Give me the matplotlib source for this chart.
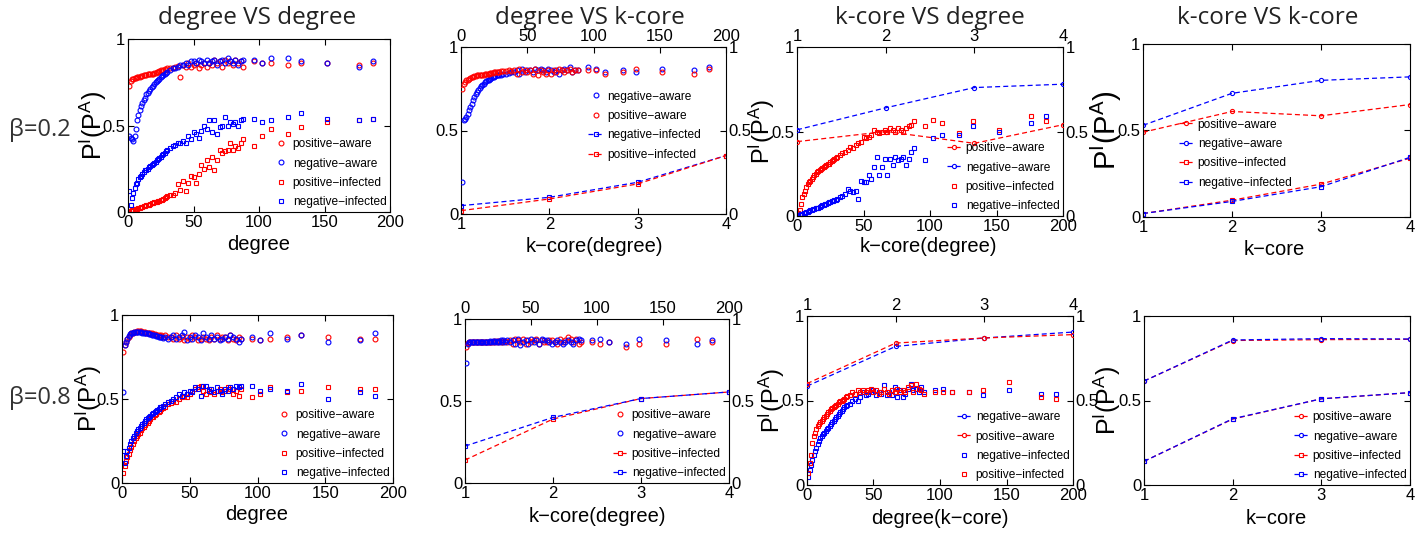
import matplotlib
matplotlib.use('Agg')
import matplotlib.pyplot as plt

plt.rcParams['font.family'] = ['Liberation Sans', 'DejaVu Sans']
plt.rcParams['mathtext.fontset'] = 'custom'
plt.rcParams['mathtext.rm'] = 'Liberation Sans'

# ---------------- data ----------------
deg = [1, 2, 3, 4, 5, 6, 7, 8, 9, 10,
       11, 12, 13, 14, 15, 16, 17, 18, 19, 20,
       21, 22, 23, 24, 25, 26, 27, 28, 29, 30,
       32, 34, 36, 38, 40, 42, 44, 46, 48, 50,
       52, 54, 56, 58, 60,
       62, 64, 66, 68, 70, 72, 74, 76, 78, 80, 82, 84, 86, 88,
       96, 102, 109, 122, 132, 152, 176, 187]
kcore = [1, 2, 3, 4]

# beta = 0.2, degree VS degree
p1_pos_aware = [0.73, 0.76, 0.77, 0.77, 0.775, 0.775, 0.78, 0.78, 0.78, 0.785,
                0.785, 0.79, 0.79, 0.79, 0.795, 0.795, 0.80, 0.80, 0.80, 0.805,
                0.805, 0.81, 0.81, 0.815, 0.82, 0.815, 0.82, 0.825, 0.82, 0.83,
                0.83, 0.835, 0.84, 0.845, 0.78, 0.85, 0.84, 0.86, 0.84, 0.85,
                0.86, 0.83, 0.85, 0.86, 0.84,
                0.86, 0.85, 0.88, 0.86, 0.87, 0.84, 0.88, 0.86, 0.87, 0.85, 0.88, 0.86, 0.87, 0.84,
                0.87, 0.86, 0.86, 0.85, 0.86, 0.86, 0.85, 0.86]
p1_neg_aware = [0.44, 0.43, 0.42, 0.41, 0.44, 0.48, 0.53, 0.56, 0.59, 0.61,
                0.63, 0.65, 0.66, 0.68, 0.69, 0.70, 0.71, 0.72, 0.73, 0.74,
                0.75, 0.76, 0.765, 0.77, 0.78, 0.785, 0.79, 0.80, 0.805, 0.81,
                0.82, 0.83, 0.835, 0.84, 0.85, 0.85, 0.86, 0.85, 0.87, 0.87,
                0.86, 0.88, 0.87, 0.86, 0.88,
                0.86, 0.87, 0.88, 0.85, 0.87, 0.88, 0.86, 0.89, 0.87, 0.86, 0.88, 0.85, 0.87, 0.88,
                0.88, 0.86, 0.89, 0.89, 0.87, 0.86, 0.84, 0.87]
p1_pos_inf = [0.0, 0.005, 0.01, 0.012, 0.015, 0.018, 0.02, 0.022, 0.025, 0.028,
              0.03, 0.033, 0.036, 0.038, 0.04, 0.043, 0.046, 0.05, 0.052, 0.055,
              0.058, 0.06, 0.062, 0.065, 0.07, 0.07, 0.075, 0.08, 0.085, 0.09,
              0.10, 0.10, 0.11, 0.16, 0.13, 0.18, 0.12, 0.17, 0.21, 0.20,
              0.17, 0.22, 0.27, 0.25, 0.30,
              0.26, 0.32, 0.24, 0.30, 0.36, 0.34, 0.35, 0.36, 0.40, 0.36, 0.38, 0.37, 0.40, 0.42,
              0.38, 0.44, 0.48, 0.45, 0.49, 0.52, 0.53, 0.54]
p1_neg_inf = [0.12, 0.04, 0.08, 0.11, 0.14, 0.16, 0.17, 0.19, 0.20, 0.21,
              0.22, 0.23, 0.24, 0.245, 0.25, 0.26, 0.265, 0.27, 0.28, 0.285,
              0.29, 0.30, 0.305, 0.31, 0.32, 0.33, 0.335, 0.34, 0.35, 0.36,
              0.37, 0.38, 0.39, 0.40, 0.40, 0.41, 0.40, 0.44, 0.42, 0.46,
              0.45, 0.43, 0.47, 0.50, 0.48,
              0.53, 0.46, 0.53, 0.45, 0.49, 0.50, 0.55, 0.50, 0.52, 0.51, 0.52, 0.50, 0.53, 0.54,
              0.54, 0.52, 0.53, 0.55, 0.57, 0.54, 0.53, 0.54]

# beta = 0.2, degree VS k-core
p2_neg_aware = [0.19, 0.56, 0.57, 0.58, 0.60, 0.62, 0.64, 0.66, 0.68, 0.70,
                0.72, 0.73, 0.74, 0.755, 0.765, 0.775, 0.78, 0.79, 0.795, 0.80,
                0.805, 0.81, 0.815, 0.82, 0.82, 0.825, 0.83, 0.83, 0.835, 0.835,
                0.84, 0.84, 0.845, 0.85, 0.85, 0.86, 0.84, 0.87, 0.85, 0.86,
                0.86, 0.85, 0.87, 0.86, 0.87,
                0.86, 0.85, 0.87, 0.86, 0.85, 0.86, 0.84, 0.86, 0.87, 0.86, 0.88, 0.85, 0.86, 0.86,
                0.88, 0.87, 0.85, 0.86, 0.85, 0.87, 0.86, 0.88]
p2_pos_aware = [0.75, 0.78, 0.79, 0.80, 0.805, 0.81, 0.815, 0.82, 0.82, 0.825,
                0.825, 0.83, 0.83, 0.83, 0.835, 0.835, 0.835, 0.84, 0.84, 0.84,
                0.84, 0.845, 0.845, 0.845, 0.85, 0.85, 0.85, 0.85, 0.85, 0.855,
                0.855, 0.855, 0.86, 0.855, 0.86, 0.84, 0.87, 0.85, 0.86, 0.85,
                0.86, 0.84, 0.87, 0.83, 0.86,
                0.85, 0.84, 0.86, 0.84, 0.86, 0.85, 0.87, 0.86, 0.85, 0.86, 0.87, 0.85, 0.86, 0.86,
                0.86, 0.86, 0.84, 0.85, 0.87, 0.85, 0.84, 0.87]
p2_neg_inf = [0.05, 0.10, 0.19, 0.35]
p2_pos_inf = [0.02, 0.09, 0.18, 0.35]

# beta = 0.2, k-core VS degree
p3_pos_aware = [0.44, 0.50, 0.43, 0.54]
p3_neg_aware = [0.51, 0.64, 0.76, 0.78]
p3_pos_inf = [0.015, 0.035, 0.07, 0.11, 0.13, 0.15, 0.17, 0.19, 0.20, 0.21,
              0.22, 0.23, 0.24, 0.25, 0.26, 0.265, 0.27, 0.28, 0.285, 0.29,
              0.295, 0.30, 0.305, 0.31, 0.32, 0.325, 0.33, 0.34, 0.345, 0.35,
              0.36, 0.37, 0.38, 0.39, 0.41, 0.40, 0.42, 0.43, 0.44, 0.47,
              0.46, 0.47, 0.48, 0.51, 0.50,
              0.49, 0.50, 0.51, 0.50, 0.52, 0.51, 0.50, 0.52, 0.51, 0.50, 0.52, 0.53, 0.54, 0.56,
              0.53, 0.57, 0.55, 0.49, 0.56, 0.51, 0.59, 0.56]
p3_neg_inf = [0.005, 0.008, 0.01, 0.013, 0.016, 0.02, 0.023, 0.026, 0.03, 0.033,
              0.036, 0.04, 0.042, 0.045, 0.048, 0.05, 0.055, 0.06, 0.063, 0.066,
              0.07, 0.073, 0.076, 0.08, 0.085, 0.088, 0.09, 0.093, 0.097, 0.10,
              0.11, 0.12, 0.13, 0.16, 0.15, 0.14, 0.15, 0.10, 0.21, 0.20,
              0.20, 0.24, 0.22, 0.29, 0.35,
              0.24, 0.29, 0.34, 0.24, 0.34, 0.30, 0.35, 0.33, 0.34, 0.35, 0.30, 0.34, 0.38, 0.40,
              0.33, 0.46, 0.48, 0.48, 0.53, 0.50, 0.55, 0.59]

# beta = 0.2, k-core VS k-core
p4_pos_aware = [0.49, 0.61, 0.585, 0.65]
p4_neg_aware = [0.53, 0.715, 0.79, 0.81]
p4_pos_inf = [0.02, 0.097, 0.19, 0.34]
p4_neg_inf = [0.02, 0.09, 0.175, 0.345]

# beta = 0.8, degree VS degree
p5_pos_aware = [0.78, 0.82, 0.84, 0.86, 0.87, 0.88, 0.89, 0.895, 0.90, 0.90,
                0.905, 0.905, 0.905, 0.905, 0.90, 0.90, 0.90, 0.895, 0.895, 0.89,
                0.89, 0.89, 0.885, 0.885, 0.88, 0.88, 0.88, 0.875, 0.88, 0.87,
                0.88, 0.87, 0.87, 0.86, 0.88, 0.86, 0.87, 0.85, 0.87, 0.86,
                0.88, 0.87, 0.85, 0.86, 0.87,
                0.86, 0.85, 0.87, 0.86, 0.88, 0.86, 0.87, 0.87, 0.85, 0.88, 0.86, 0.85, 0.87, 0.86,
                0.86, 0.85, 0.86, 0.87, 0.88, 0.87, 0.86, 0.86]
p5_neg_aware = [0.54, 0.82, 0.84, 0.86, 0.875, 0.885, 0.89, 0.895, 0.90, 0.90,
                0.90, 0.90, 0.90, 0.90, 0.895, 0.895, 0.89, 0.89, 0.89, 0.885,
                0.885, 0.88, 0.88, 0.88, 0.875, 0.875, 0.87, 0.87, 0.87, 0.865,
                0.87, 0.86, 0.87, 0.88, 0.86, 0.87, 0.88, 0.90, 0.85, 0.87,
                0.86, 0.88, 0.87, 0.85, 0.89,
                0.87, 0.86, 0.88, 0.86, 0.87, 0.85, 0.86, 0.87, 0.86, 0.88, 0.87, 0.86, 0.84, 0.86,
                0.87, 0.85, 0.89, 0.86, 0.88, 0.84, 0.85, 0.89]
p5_pos_inf = [0.06, 0.10, 0.13, 0.155, 0.175, 0.195, 0.215, 0.235, 0.25, 0.265,
              0.28, 0.29, 0.30, 0.315, 0.325, 0.335, 0.345, 0.355, 0.36, 0.37,
              0.38, 0.39, 0.395, 0.405, 0.41, 0.42, 0.425, 0.43, 0.44, 0.445,
              0.455, 0.47, 0.475, 0.49, 0.48, 0.50, 0.51, 0.52, 0.51, 0.53,
              0.55, 0.56, 0.57, 0.58, 0.55,
              0.53, 0.56, 0.54, 0.53, 0.55, 0.56, 0.54, 0.55, 0.57, 0.56, 0.53, 0.55, 0.52, 0.56,
              0.51, 0.53, 0.57, 0.54, 0.55, 0.57, 0.56, 0.56]
p5_neg_inf = [0.19, 0.12, 0.16, 0.19, 0.21, 0.23, 0.25, 0.27, 0.28, 0.30,
              0.31, 0.32, 0.33, 0.34, 0.35, 0.36, 0.37, 0.38, 0.385, 0.39,
              0.40, 0.41, 0.415, 0.42, 0.43, 0.435, 0.44, 0.45, 0.455, 0.46,
              0.47, 0.48, 0.49, 0.50, 0.51, 0.53, 0.52, 0.54, 0.53, 0.55,
              0.54, 0.57, 0.56, 0.52, 0.58,
              0.58, 0.55, 0.56, 0.54, 0.57, 0.55, 0.53, 0.56, 0.55, 0.57, 0.56, 0.58, 0.57, 0.58,
              0.58, 0.55, 0.56, 0.55, 0.59, 0.50, 0.54, 0.52]

# beta = 0.8, degree VS k-core
p6_pos_aware = [0.83, 0.855, 0.86, 0.86, 0.86, 0.86, 0.86, 0.86, 0.86, 0.86,
                0.86, 0.86, 0.86, 0.86, 0.86, 0.86, 0.86, 0.86, 0.86, 0.86,
                0.86, 0.865, 0.86, 0.865, 0.86, 0.865, 0.86, 0.865, 0.86, 0.865,
                0.86, 0.87, 0.85, 0.88, 0.87, 0.86, 0.88, 0.85, 0.87, 0.86,
                0.87, 0.88, 0.85, 0.87, 0.86,
                0.86, 0.87, 0.87, 0.86, 0.85, 0.88, 0.86, 0.87, 0.89, 0.88, 0.86, 0.88, 0.85, 0.86,
                0.86, 0.85, 0.86, 0.83, 0.85, 0.85, 0.88, 0.86]
p6_neg_aware = [0.73, 0.85, 0.86, 0.86, 0.86, 0.86, 0.86, 0.86, 0.86, 0.86,
                0.86, 0.86, 0.86, 0.86, 0.86, 0.86, 0.86, 0.86, 0.865, 0.86,
                0.865, 0.86, 0.865, 0.86, 0.865, 0.86, 0.87, 0.86, 0.87, 0.86,
                0.87, 0.86, 0.87, 0.85, 0.88, 0.84, 0.86, 0.87, 0.85, 0.88,
                0.86, 0.87, 0.85, 0.88, 0.87,
                0.87, 0.86, 0.85, 0.86, 0.87, 0.86, 0.85, 0.86, 0.87, 0.86, 0.85, 0.87, 0.88, 0.87,
                0.87, 0.88, 0.86, 0.85, 0.88, 0.87, 0.85, 0.87]
p6_pos_inf = [0.14, 0.39, 0.515, 0.555]
p6_neg_inf = [0.225, 0.40, 0.515, 0.555]

# beta = 0.8, k-core VS degree
p7_neg_aware = [0.585, 0.82, 0.87, 0.905]
p7_pos_aware = [0.60, 0.84, 0.87, 0.89]
p7_neg_inf = [0.05, 0.09, 0.12, 0.15, 0.18, 0.20, 0.22, 0.24, 0.26, 0.28,
              0.29, 0.30, 0.31, 0.32, 0.33, 0.34, 0.35, 0.36, 0.37, 0.38,
              0.39, 0.40, 0.41, 0.42, 0.43, 0.44, 0.45, 0.46, 0.47, 0.475,
              0.48, 0.50, 0.51, 0.50, 0.52, 0.55, 0.53, 0.54, 0.55, 0.56,
              0.53, 0.55, 0.54, 0.59, 0.53,
              0.55, 0.53, 0.58, 0.52, 0.56, 0.52, 0.54, 0.57, 0.60, 0.56, 0.57, 0.55, 0.58, 0.55,
              0.56, 0.57, 0.55, 0.55, 0.53, 0.56, 0.54, 0.54]
p7_pos_inf = [0.07, 0.13, 0.18, 0.25, 0.29, 0.31, 0.33, 0.35, 0.36, 0.37,
              0.38, 0.39, 0.40, 0.41, 0.42, 0.43, 0.44, 0.45, 0.455, 0.46,
              0.47, 0.475, 0.48, 0.49, 0.495, 0.50, 0.505, 0.51, 0.52, 0.525,
              0.53, 0.55, 0.54, 0.56, 0.55, 0.56, 0.55, 0.56, 0.57, 0.55,
              0.56, 0.54, 0.55, 0.57, 0.55,
              0.54, 0.56, 0.55, 0.57, 0.55, 0.56, 0.55, 0.58, 0.59, 0.55, 0.60, 0.57, 0.56, 0.54,
              0.55, 0.55, 0.55, 0.55, 0.56, 0.61, 0.52, 0.51]

# beta = 0.8, k-core VS k-core
p8_pos_aware = [0.615, 0.855, 0.86, 0.862]
p8_neg_aware = [0.615, 0.858, 0.866, 0.864]
p8_pos_inf = [0.14, 0.39, 0.51, 0.546]
p8_neg_inf = [0.14, 0.392, 0.51, 0.547]

col_titles = ['degree VS degree', 'degree VS k-core', 'k-core VS degree', 'k-core VS k-core']
row_labels = ['\u03b2=0.2', '\u03b2=0.8']
deg_ticks = [0, 50, 100, 150, 200]
yticks = [0, 0.5, 1]
ytick_labels = ['0', '0.5', '1']

# ---------------- figure ----------------
W, H = 1422, 533
fig = plt.figure(figsize=(W / 100, H / 100), dpi=100)
RED = '#ff0000'
BLUE = '#0000ff'
NARROW = ['Liberation Sans Narrow', 'Liberation Sans', 'DejaVu Sans']
YLAB = r'$\mathregular{P^I(P^A)}$'


def rect(l, t, r, b):
    return [l / W, 1 - b / H, (r - l) / W, (b - t) / H]


def setup(ax, xlim, xticks, **kw):
    ax.set_xlim(xlim)
    ax.set_ylim(0, 1)
    ax.set_xticks(xticks)
    ax.set_yticks(yticks)
    ax.set_yticklabels(ytick_labels)
    params = dict(direction='in', length=4, width=0.8, labelsize=12, pad=2,
                  bottom=True, top=True, left=True, right=True,
                  labelbottom=True, labeltop=False, labelleft=True, labelright=False)
    params.update(kw)
    ax.tick_params(**params)
    for s in ax.spines.values():
        s.set_linewidth(0.8)


def pts(ax, x, y, c, m, label):
    return ax.plot(x, y, ls='none', marker=m, ms=3.5, mfc='none', mec=c,
                   mew=0.8, label=label)[0]


def line(ax, x, y, c, m, label):
    return ax.plot(x, y, ls='--', color=c, lw=0.9, dashes=(4, 2.5), marker=m,
                   ms=3, mfc='none', mec=c, mew=0.8, label=label)[0]


def legend(ax, handles, loc, anchor):
    ax.legend(handles=handles, loc=loc, bbox_to_anchor=anchor, frameon=False,
              prop={'family': NARROW, 'size': 8.6}, numpoints=1,
              handlelength=1.3, handletextpad=0.3, borderaxespad=0.2,
              labelspacing=0.62, borderpad=0.1)


def xlab(ax, text, box, cx, cy):
    l, t, r, b = box
    ax.set_xlabel(text, fontsize=14.5, family=NARROW)
    ax.xaxis.label.set_verticalalignment('center')
    ax.xaxis.set_label_coords((cx - l) / (r - l), -(cy - b) / (b - t))


def ylab(ax, box, cx, size=18):
    l, t, r, b = box
    ax.set_ylabel(YLAB, fontsize=size, family=NARROW)
    ax.yaxis.label.set_verticalalignment('center')
    ax.yaxis.set_label_coords((cx - l) / (r - l), 0.5)


# ---- panel 1 ----
b1 = (128, 39, 390, 212)
ax = fig.add_axes(rect(*b1))
setup(ax, (0, 200), deg_ticks)
h = [pts(ax, deg, p1_pos_aware, RED, 'o', 'positive\u2212aware'),
     pts(ax, deg, p1_neg_aware, BLUE, 'o', 'negative\u2212aware'),
     pts(ax, deg, p1_pos_inf, RED, 's', 'positive\u2212infected'),
     pts(ax, deg, p1_neg_inf, BLUE, 's', 'negative\u2212infected')]
legend(ax, h, 'lower right', (1.0, 0.0))
xlab(ax, 'degree', b1, 259, 244)
ylab(ax, b1, 93)

# ---- panel 2 ----
b2 = (461, 47, 726, 214)
axk = fig.add_axes(rect(*b2), label='p2k')
axd = fig.add_axes(rect(*b2), label='p2d', frameon=False)
setup(axk, (1, 4), kcore, top=False, right=False)
setup(axd, (0, 200), deg_ticks, bottom=False, left=False, labelbottom=False,
      labelleft=False, labeltop=True, labelright=True)
h = [pts(axd, deg, p2_neg_aware, BLUE, 'o', 'negative\u2212aware'),
     pts(axd, deg, p2_pos_aware, RED, 'o', 'positive\u2212aware'),
     line(axk, kcore, p2_neg_inf, BLUE, 's', 'negative\u2212infected'),
     line(axk, kcore, p2_pos_inf, RED, 's', 'positive\u2212infected')]
legend(axd, h, 'upper right', (0.92, 0.76))
xlab(axk, 'k\u2212core(degree)', b2, 594, 246)

# ---- panel 3 ----
b3 = (797, 47, 1063, 216)
axd = fig.add_axes(rect(*b3), label='p3d')
axk = fig.add_axes(rect(*b3), label='p3k', frameon=False)
setup(axd, (0, 200), deg_ticks, top=False, right=False)
setup(axk, (1, 4), kcore, bottom=False, left=False, labelbottom=False,
      labelleft=False, labeltop=True, labelright=True)
h = [line(axk, kcore, p3_pos_aware, RED, 'o', 'positive\u2212aware'),
     line(axk, kcore, p3_neg_aware, BLUE, 'o', 'negative\u2212aware'),
     pts(axd, deg, p3_pos_inf, RED, 's', 'positive\u2212infected'),
     pts(axd, deg, p3_neg_inf, BLUE, 's', 'negative\u2212infected')]
legend(axk, h, 'lower right', (1.0, 0.0))
xlab(axd, 'k\u2212core(degree)', b3, 928, 247)
ylab(axd, b3, 762, 17)

# ---- panel 4 ----
b4 = (1143, 44, 1410, 217)
ax = fig.add_axes(rect(*b4))
setup(ax, (1, 4), kcore)
h = [line(ax, kcore, p4_pos_aware, RED, 'o', 'positive\u2212aware'),
     line(ax, kcore, p4_neg_aware, BLUE, 'o', 'negative\u2212aware'),
     line(ax, kcore, p4_pos_inf, RED, 's', 'positive\u2212infected'),
     line(ax, kcore, p4_neg_inf, BLUE, 's', 'negative\u2212infected')]
legend(ax, h, 'upper left', (0.12, 0.59))
xlab(ax, 'k\u2212core', b4, 1274, 250)
ylab(ax, b4, 1106, 21)

# ---- panel 5 ----
b5 = (122, 315, 393, 483)
ax = fig.add_axes(rect(*b5))
setup(ax, (0, 200), deg_ticks)
h = [pts(ax, deg, p5_pos_aware, RED, 'o', 'positive\u2212aware'),
     pts(ax, deg, p5_neg_aware, BLUE, 'o', 'negative\u2212aware'),
     pts(ax, deg, p5_pos_inf, RED, 's', 'positive\u2212infected'),
     pts(ax, deg, p5_neg_inf, BLUE, 's', 'negative\u2212infected')]
legend(ax, h, 'lower right', (1.0, 0.0))
xlab(ax, 'degree', b5, 257, 515)
ylab(ax, b5, 89, 17.5)

# ---- panel 6 ----
b6 = (465, 319, 729, 483)
axk = fig.add_axes(rect(*b6), label='p6k')
axd = fig.add_axes(rect(*b6), label='p6d', frameon=False)
setup(axk, (1, 4), kcore, top=False, right=False)
setup(axd, (0, 200), deg_ticks, bottom=False, left=False, labelbottom=False,
      labelleft=False, labeltop=True, labelright=True)
h = [pts(axd, deg, p6_pos_aware, RED, 'o', 'positive\u2212aware'),
     pts(axd, deg, p6_neg_aware, BLUE, 'o', 'negative\u2212aware'),
     line(axk, kcore, p6_pos_inf, RED, 's', 'positive\u2212infected'),
     line(axk, kcore, p6_neg_inf, BLUE, 's', 'negative\u2212infected')]
legend(axd, h, 'lower right', (1.0, 0.0))
xlab(axk, 'k\u2212core(degree)', b6, 597, 516)

# ---- panel 7 ----
b7 = (807, 316, 1073, 485)
axd = fig.add_axes(rect(*b7), label='p7d')
axk = fig.add_axes(rect(*b7), label='p7k', frameon=False)
setup(axd, (0, 200), deg_ticks, top=False, right=False)
setup(axk, (1, 4), kcore, bottom=False, left=False, labelbottom=False,
      labelleft=False, labeltop=True, labelright=True)
h = [line(axk, kcore, p7_neg_aware, BLUE, 'o', 'negative\u2212aware'),
     line(axk, kcore, p7_pos_aware, RED, 'o', 'positive\u2212aware'),
     pts(axd, deg, p7_neg_inf, BLUE, 's', 'negative\u2212infected'),
     pts(axd, deg, p7_pos_inf, RED, 's', 'positive\u2212infected')]
legend(axk, h, 'lower right', (1.0, 0.0))
xlab(axd, 'degree(k\u2212core)', b7, 940, 519)
ylab(axd, b7, 772, 17)

# ---- panel 8 ----
b8 = (1144, 316, 1410, 485)
ax = fig.add_axes(rect(*b8))
setup(ax, (1, 4), kcore)
h = [line(ax, kcore, p8_pos_aware, RED, 'o', 'positive\u2212aware'),
     line(ax, kcore, p8_neg_aware, BLUE, 'o', 'negative\u2212aware'),
     line(ax, kcore, p8_pos_inf, RED, 's', 'positive\u2212infected'),
     line(ax, kcore, p8_neg_inf, BLUE, 's', 'negative\u2212infected')]
legend(ax, h, 'lower right', (1.0, 0.0))
xlab(ax, 'k\u2212core', b8, 1276, 519)
ylab(ax, b8, 1107)

# ---- titles and row labels ----
for cx, t in zip([257, 590, 930, 1268], col_titles):
    fig.text(cx / W, 1 - 18 / H, t, ha='center', va='center', fontsize=17.5,
             family=['Open Sans', 'DejaVu Sans'], color='#222222')
for cy, t in zip([130, 398], row_labels):
    fig.text(40 / W, 1 - cy / H, t, ha='center', va='center', fontsize=17,
             family=['Open Sans', 'DejaVu Sans'], color='#333333')

fig.savefig('out.png', dpi=100)
